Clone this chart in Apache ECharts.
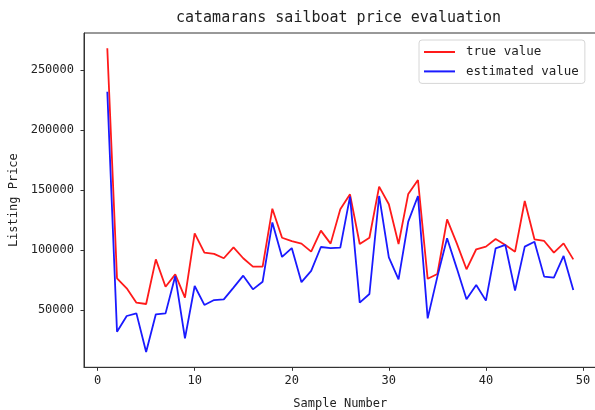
<!DOCTYPE html>
<html>
<head>
<meta charset="utf-8">
<script src="https://cdn.jsdelivr.net/npm/echarts@6/dist/echarts.min.js"></script>
<style>
html,body{margin:0;padding:0;background:#fff;}
#chart{width:595px;height:410px;}
</style>
</head>
<body>
<div id="chart"></div>
<script>
// ---- data ----
const sampleNumbers = [1,2,3,4,5,6,7,8,9,10,11,12,13,14,15,16,17,18,19,20,21,22,23,24,25,26,27,28,29,30,31,32,33,34,35,36,37,38,39,40,41,42,43,44,45,46,47,48,49];
const trueValues = [268100, 76400, 68100, 56100, 55000, 92200, 69400, 79700, 60300, 113900,
  97800, 96700, 93100, 102200, 93100, 86100, 86100, 134400, 110200, 107400,
  105300, 98600, 116100, 105300, 133900, 146400, 105000, 110200, 152800, 138100,
  105000, 146700, 158300, 76000, 80000, 125500, 105500, 83900, 100600, 102800,
  109200, 104200, 98600, 140800, 108900, 107500, 97800, 105500, 92200];
const estimatedValues = [231900, 31900, 45000, 47200, 15000, 46400, 47200, 78300, 26400, 70000,
  54200, 58300, 58900, 68600, 78600, 67200, 73600, 123000, 94200, 101600,
  73200, 82600, 102500, 101600, 101900, 144400, 56200, 63300, 145000, 93900,
  75500, 123600, 145000, 43000, 77800, 109700, 84700, 58900, 70800, 57800,
  101400, 104200, 66100, 102800, 106900, 77800, 76900, 95000, 66700];
const xTicks = [0, 10, 20, 30, 40, 50];
const yTicks = [50000, 100000, 150000, 200000, 250000];
const seriesNames = ['true value', 'estimated value'];
const titleText = 'catamarans sailboat price evaluation';
const xName = 'Sample Number';
const yName = 'Listing Price';

// ---- chart ----
const FONT = '"DejaVu Sans Mono", "Liberation Mono", monospace';
const chart = echarts.init(document.getElementById('chart'), null, {renderer: 'canvas'});
const pairs = (vals) => sampleNumbers.map((x, i) => [x, vals[i]]);

chart.setOption({
  backgroundColor: '#ffffff',
  animation: false,
  title: {
    text: titleText,
    left: 176, top: 11,
    padding: 0,
    textStyle: {fontFamily: FONT, fontSize: 15, fontWeight: 'normal', color: '#222'}
  },
  legend: {
    orient: 'vertical',
    left: 419, top: 40,
    padding: [5, 6, 5, 5],
    itemWidth: 31, itemHeight: 2,
    itemGap: 5.4,
    icon: 'rect',
    borderColor: '#d6d6d6', borderWidth: 1, borderRadius: 3,
    backgroundColor: 'rgba(255,255,255,0.8)',
    textStyle: {fontFamily: FONT, fontSize: 12.5, color: '#222', lineHeight: 14, padding: [0,0,0,6]},
    data: seriesNames
  },
  grid: {
    left: 84, top: 33, width: 512.6, height: 334.3,
    containLabel: false, outerBoundsMode: 'none',
    show: true, borderColor: '#333', borderWidth: 1, backgroundColor: 'transparent'
  },
  xAxis: {
    type: 'value',
    min: -1.4, max: 51.4,
    name: xName, nameLocation: 'middle', nameGap: 31,
    nameTextStyle: {fontFamily: FONT, fontSize: 12, color: '#222'},
    axisLine: {show: true, onZero: false, lineStyle: {color: '#333', width: 1}},
    axisTick: {show: true, length: 3.5, inside: false, customValues: xTicks, lineStyle: {color: '#333'}},
    axisLabel: {customValues: xTicks, margin: 8, fontFamily: FONT, fontSize: 12, color: '#222',
      formatter: (v) => String(v)},
    splitLine: {show: false}
  },
  yAxis: {
    type: 'value',
    min: 2250, max: 280800,
    name: yName, nameLocation: 'middle', nameGap: 63,
    nameTextStyle: {fontFamily: FONT, fontSize: 12, color: '#222'},
    axisLine: {show: true, onZero: false, lineStyle: {color: '#333', width: 1}},
    axisTick: {show: true, length: 3.5, inside: false, customValues: yTicks, lineStyle: {color: '#333'}},
    axisLabel: {customValues: yTicks, margin: 10, fontFamily: FONT, fontSize: 12, color: '#222',
      formatter: (v) => String(v)},
    splitLine: {show: false}
  },
  series: [
    {
      name: seriesNames[0], type: 'line', data: pairs(trueValues),
      symbol: 'none', lineStyle: {color: '#ff1a1a', width: 1.8}, itemStyle: {color: '#ff1a1a'}
    },
    {
      name: seriesNames[1], type: 'line', data: pairs(estimatedValues),
      symbol: 'none', lineStyle: {color: '#1a1aff', width: 1.8}, itemStyle: {color: '#1a1aff'}
    }
  ]
});
</script>
</body>
</html>
